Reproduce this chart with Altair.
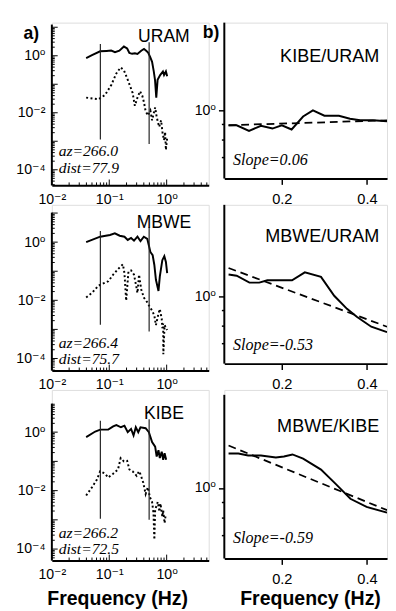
import altair as alt
import pandas as pd

# ---------------- left column: station spectra ----------------
stations = ["URAM", "MBWE", "KIBE"]
az_text = ["az=266.0", "az=266.4", "az=266.2"]
dist_text = ["dist=77.9", "dist=75.7", "dist=72.5"]

uram_sig_f = [0.0396, 0.05, 0.0695, 0.09, 0.108, 0.126, 0.15, 0.18, 0.205, 0.224, 0.25, 0.28, 0.31, 0.36, 0.403,
              0.44, 0.475, 0.515, 0.557, 0.596, 0.627, 0.659, 0.695, 0.77, 0.86, 0.90, 0.97, 1.02]
uram_sig_a = [0.83, 1.05, 1.43, 1.48, 1.52, 1.34, 1.5, 2.1, 1.8, 1.25, 1.17, 1.22, 1.15, 1.5, 1.73,
              1.5, 1.3, 0.92, 0.61, 0.284, 0.14, 0.034, 0.143, 0.21, 0.28, 0.21, 0.28, 0.19]
uram_noise_f = [0.0396, 0.065, 0.0845, 0.109, 0.133, 0.158, 0.18, 0.21, 0.255, 0.279, 0.31, 0.344, 0.377, 0.403,
                0.428, 0.47, 0.52, 0.557, 0.63, 0.67, 0.74, 0.8, 0.85, 0.9, 0.94, 0.97, 1.02]
uram_noise_a = [0.034, 0.0297, 0.042, 0.0966, 0.24, 0.39, 0.31, 0.143, 0.05, 0.0176, 0.034, 0.057, 0.039, 0.023,
                0.0119, 0.008, 0.012, 0.0054, 0.0154, 0.0071, 0.0032, 0.0054, 0.0019, 0.0011, 0.0021, 0.0005, 0.0013]

mbwe_sig_f = [0.0396, 0.0695, 0.103, 0.125, 0.152, 0.184, 0.21, 0.24, 0.27, 0.31, 0.35, 0.40, 0.46, 0.49, 0.52,
              0.57, 0.61, 0.65, 0.72, 0.76, 0.84, 0.91, 0.97, 1.02]
mbwe_sig_a = [1.0, 1.54, 1.76, 2.0, 1.66, 1.54, 1.19, 1.39, 1.13, 1.54, 1.08, 1.54, 1.29, 0.77, 0.46,
              0.356, 0.164, 0.051, 0.021, 0.067, 0.24, 0.33, 0.21, 0.086]
mbwe_noise_f = [0.0396, 0.05, 0.065, 0.079, 0.096, 0.117, 0.142, 0.173, 0.184, 0.197, 0.216, 0.24, 0.27, 0.31,
                0.33, 0.36, 0.40, 0.46, 0.51, 0.557, 0.61, 0.65, 0.72, 0.76, 0.82, 0.84, 0.87, 0.875, 0.92, 1.02]
mbwe_noise_a = [0.0125, 0.018, 0.032, 0.038, 0.045, 0.076, 0.118, 0.173, 0.086, 0.0097, 0.098, 0.106, 0.076, 0.018,
                0.076, 0.024, 0.0125, 0.0085, 0.0058, 0.0045, 0.003, 0.0014, 0.0035, 0.005, 0.0023, 0.0011, 0.0016,
                0.00014, 0.0014, 0.00095]

kibe_sig_f = [0.0396, 0.057, 0.0695, 0.096, 0.117, 0.133, 0.16, 0.184, 0.21, 0.24, 0.265, 0.29, 0.32, 0.35, 0.43,
              0.49, 0.557, 0.63, 0.67, 0.72, 0.76, 0.82, 0.87, 0.92, 0.98]
kibe_sig_a = [0.68, 1.05, 1.22, 1.22, 1.58, 1.75, 1.47, 1.66, 1.0, 1.29, 0.77, 1.47, 1.0, 1.47, 1.36,
              1.0, 0.46, 0.32, 0.147, 0.24, 0.13, 0.215, 0.113, 0.19, 0.113]
kibe_noise_f = [0.0396, 0.05, 0.061, 0.0695, 0.0845, 0.096, 0.117, 0.142, 0.158, 0.18, 0.205, 0.224, 0.255, 0.3,
                0.33, 0.35, 0.39, 0.43, 0.47, 0.51, 0.557, 0.59, 0.61, 0.63, 0.70, 0.75, 0.78, 0.84, 0.87, 0.92, 0.96]
kibe_noise_a = [0.0068, 0.013, 0.024, 0.046, 0.038, 0.028, 0.038, 0.053, 0.129, 0.1, 0.105, 0.053, 0.046, 0.032,
                0.046, 0.036, 0.019, 0.0077, 0.013, 0.006, 0.0041, 0.0017, 0.00021, 0.0022, 0.0041, 0.0019, 0.0036,
                0.0013, 0.0021, 0.00077, 0.0015]

# analysis window (vertical markers)
window_f = [0.07, 0.495]
uram_win_top = [2.6, 3.0]
uram_win_bot = [0.00115, 0.0008]
mbwe_win_top = [2.4, 3.27]
mbwe_win_bot = [0.00144, 0.00085]
kibe_win_top = [2.44, 2.78]
kibe_win_bot = [0.0011, 0.001]

# ---------------- right column: spectral ratios ----------------
ratio_names = ["KIBE/URAM", "MBWE/URAM", "MBWE/KIBE"]
slope_text = ["Slope=0.06", "Slope=-0.53", "Slope=-0.59"]

kibe_uram_f = [0.075, 0.094, 0.123, 0.151, 0.178, 0.2, 0.223, 0.25, 0.273, 0.3, 0.334, 0.36, 0.384, 0.414, 0.447]
kibe_uram_r = [0.893, 0.893, 0.856, 0.889, 0.871, 0.893, 0.865, 0.954, 1.0, 0.96, 0.96, 0.938, 0.927, 0.927, 0.92]
kibe_uram_fit_f = [0.075, 0.447]
kibe_uram_fit_r = [0.893, 0.927]

mbwe_uram_f = [0.075, 0.094, 0.124, 0.147, 0.166, 0.193, 0.224, 0.254, 0.292, 0.323, 0.353, 0.376, 0.41, 0.447]
mbwe_uram_r = [1.18, 1.17, 1.11, 1.11, 1.13, 1.13, 1.13, 1.2, 1.16, 1.005, 0.91, 0.857, 0.795, 0.763]
mbwe_uram_fit_f = [0.075, 0.447]
mbwe_uram_fit_r = [1.24, 0.795]

mbwe_kibe_f = [0.075, 0.098, 0.121, 0.151, 0.186, 0.205, 0.225, 0.25, 0.292, 0.327, 0.361, 0.399, 0.447]
mbwe_kibe_r = [1.30, 1.30, 1.28, 1.28, 1.26, 1.27, 1.29, 1.25, 1.15, 1.03, 0.922, 0.867, 0.83]
mbwe_kibe_fit_f = [0.075, 0.447]
mbwe_kibe_fit_r = [1.38, 0.846]

# ---------------- styling / layout ----------------
SANS = "Liberation Sans, Helvetica, Arial, DejaVu Sans"
SERIF = "Liberation Serif, Times New Roman, DejaVu Serif"

LX_DOM = [0.01, 5.4]
RX_DOM = [0.065, 0.447]
LW = 161
RW = 167

# per-row cell geometry: cell height, px offset of visible axis top,
# pixel of the 10^0 level below the cell top, pixels per decade
L_H = [167, 170, 175]
L_OFF = [2, 8, 14]
L_P0 = [34.0, 38.3, 43.3]
L_K = [29.25, 29.85, 30.0]
R_H = [160, 163, 173]
R_OFF = [0, 0, 5]
R_P0 = [90.0, 94.0, 100.7]
R_K = [312.0, 312.0, 312.0]


def log_domain(p0, k, h):
    return [10 ** ((p0 - h) / k), 10 ** (p0 / k)]


lx_major = [0.01, 0.1, 1.0]
lx_minor = [k * 10.0 ** d for d in (-2, -1, 0) for k in range(2, 10) if k * 10.0 ** d <= LX_DOM[1]]

spectra = [
    (uram_sig_f, uram_sig_a, uram_noise_f, uram_noise_a, uram_win_top, uram_win_bot),
    (mbwe_sig_f, mbwe_sig_a, mbwe_noise_f, mbwe_noise_a, mbwe_win_top, mbwe_win_bot),
    (kibe_sig_f, kibe_sig_a, kibe_noise_f, kibe_noise_a, kibe_win_top, kibe_win_bot),
]
ratios = [
    (kibe_uram_f, kibe_uram_r, kibe_uram_fit_f, kibe_uram_fit_r),
    (mbwe_uram_f, mbwe_uram_r, mbwe_uram_fit_f, mbwe_uram_fit_r),
    (mbwe_kibe_f, mbwe_kibe_r, mbwe_kibe_fit_f, mbwe_kibe_fit_r),
]

title_kw = dict(titleFont=SANS, titleFontSize=20, titleFontWeight="bold", titleColor="black",
                titleAlign="center", titleBaseline="alphabetic")


def text_layer(txt, x, y, font, size, style="normal", weight="normal", align="left"):
    return alt.Chart(pd.DataFrame({"t": [txt]})).mark_text(
        font=font, fontSize=size, fontStyle=style, fontWeight=weight, align=align,
        baseline="alphabetic", color="black"
    ).encode(text="t:N", x=alt.value(x), y=alt.value(y))


def axis_line(off, h):
    return alt.Chart(pd.DataFrame({"d": [0]})).mark_rule(color="black", strokeWidth=2).encode(
        x=alt.value(0), y=alt.value(off), y2=alt.value(h))


def left_panel(i):
    h, off = L_H[i], L_OFF[i]
    sf, sa, nf, na, wt, wb = spectra[i]
    ydom = log_domain(L_P0[i], L_K[i], h)
    vis_top = 10 ** ((L_P0[i] - off) / L_K[i])
    ly_major = [10.0 ** d for d in range(-5, 2) if ydom[0] <= 10.0 ** d <= vis_top]
    ly_minor = [k * 10.0 ** d for d in range(-5, 2) for k in range(2, 10)
                if ydom[0] <= k * 10.0 ** d <= vis_top]
    xs = alt.Scale(type="log", domain=LX_DOM)
    ys = alt.Scale(type="log", domain=ydom)
    xkw = dict(values=[0.01, 0.1, 1.0],
               labelExpr="datum.value < 0.05 ? '10⁻²' : (datum.value < 0.5 ? '10⁻¹' : '10⁰')",
               ticks=False, tickSize=0, grid=False, domainWidth=2, domainColor="black",
               labelFont=SANS, labelFontSize=14.5, labelColor="black", labelPadding=8,
               labelFlush=False, labelOverlap=False)
    if i == 2:
        xkw.update(title="Frequency (Hz)", titleX=67, titleY=45, **title_kw)
    else:
        xkw.update(title=None)
    xax = alt.Axis(**xkw)
    yax = alt.Axis(values=[1e-4, 1e-2, 1.0],
                   labelExpr="datum.value < 0.001 ? '10⁻⁴' : (datum.value < 0.1 ? '10⁻²' : '10⁰')",
                   ticks=False, tickSize=0, grid=False, domain=False,
                   labelFont=SANS, labelFontSize=14.5, labelColor="black", labelPadding=7,
                   labelFlush=False, labelOverlap=False, title=None)
    X = lambda: alt.X("f:Q", scale=xs, axis=xax)
    Y = lambda: alt.Y("v:Q", scale=ys, axis=yax)

    sig = alt.Chart(pd.DataFrame({"f": sf, "v": sa})).mark_line(
        color="black", strokeWidth=2).encode(x=X(), y=Y())
    noise = alt.Chart(pd.DataFrame({"f": nf, "v": na})).mark_line(
        color="black", strokeWidth=2, strokeDash=[2, 2.5]).encode(x=X(), y=Y())
    win = alt.Chart(pd.DataFrame({"f": window_f, "v": wt, "v2": wb})).mark_rule(
        color="#222222", strokeWidth=1.2).encode(x=X(), y=Y(), y2="v2:Q")
    ytM = alt.Chart(pd.DataFrame({"v": ly_major})).mark_rule(color="black", strokeWidth=1).encode(
        y=Y(), x=alt.value(0), x2=alt.value(6))
    ytm = alt.Chart(pd.DataFrame({"v": ly_minor})).mark_rule(color="black", strokeWidth=1).encode(
        y=Y(), x=alt.value(0), x2=alt.value(3))
    xtM = alt.Chart(pd.DataFrame({"f": lx_major})).mark_rule(color="black", strokeWidth=1).encode(
        x=X(), y=alt.value(h), y2=alt.value(h - 6))
    xtm = alt.Chart(pd.DataFrame({"f": lx_minor})).mark_rule(color="black", strokeWidth=1).encode(
        x=X(), y=alt.value(h), y2=alt.value(h - 3))

    layers = [sig, noise, win, ytM, ytm, xtM, xtm, axis_line(off, h),
              text_layer(stations[i], 115, [20.3, 23.3, 29.3][i], SANS, 18, align="center"),
              text_layer(az_text[i], 7, [137.0, 146.5, 151.5][i], SERIF, 16, style="italic"),
              text_layer(dist_text[i], 7, [154.0, 163.0, 168.5][i], SERIF, 16, style="italic")]
    if i == 0:
        layers.append(text_layer("a)", -29, 17, SANS, 18, weight="bold"))
    return alt.layer(*layers).properties(width=LW, height=h)


def right_panel(i):
    h, off = R_H[i], R_OFF[i]
    rf, rr, ff, fr = ratios[i]
    xs = alt.Scale(type="linear", domain=RX_DOM, nice=False, zero=False)
    ys = alt.Scale(type="log", domain=log_domain(R_P0[i], R_K[i], h))
    xkw = dict(values=[0.2, 0.4], format=".1f", tickSize=6, tickWidth=1.5, tickColor="black",
               grid=False, domainWidth=2, domainColor="black",
               labelFont=SANS, labelFontSize=15, labelColor="black", labelPadding=8,
               labelFlush=False, labelOverlap=False)
    if i == 2:
        xkw.update(title="Frequency (Hz)", titleX=88, titleY=47, **title_kw)
    else:
        xkw.update(title=None)
    xax = alt.Axis(**xkw)
    yax = alt.Axis(values=[0.7, 0.8, 0.9, 1.0],
                   labelExpr="datum.value == 1 ? '10⁰' : ''",
                   tickSize={"condition": {"test": "datum.value == 1", "value": 6}, "value": 3},
                   tickWidth=1.5, tickColor="black", grid=False, domain=False,
                   labelFont=SANS, labelFontSize=14.5, labelColor="black", labelPadding=3,
                   labelFlush=False, labelOverlap=False, title=None)
    X = lambda: alt.X("f:Q", scale=xs, axis=xax)
    Y = lambda: alt.Y("v:Q", scale=ys, axis=yax)
    obs = alt.Chart(pd.DataFrame({"f": rf, "v": rr})).mark_line(
        color="black", strokeWidth=2, clip=True).encode(x=X(), y=Y())
    fit = alt.Chart(pd.DataFrame({"f": ff, "v": fr})).mark_line(
        color="black", strokeWidth=1.8, strokeDash=[8, 5], clip=True).encode(x=X(), y=Y())
    layers = [obs, fit, axis_line(off, h),
              text_layer(ratio_names[i], 159, [40.3, 38.3, 43.3][i], SANS, 18.5, align="right"),
              text_layer(slope_text[i], 9, [146.3, 149.3, 156.7][i], SERIF, 16.5, style="italic")]
    if i == 0:
        layers.append(text_layer("b)", -22, 16, SANS, 18, weight="bold"))
    return alt.layer(*layers).properties(width=RW, height=h)


panels = []
for r in range(3):
    panels.append(left_panel(r))
    panels.append(right_panel(r))

chart = alt.concat(*panels, columns=2, spacing={"row": 20, "column": 16}, bounds="flush").properties(
    padding={"left": 7, "top": 5, "right": 0, "bottom": 0}
).configure_view(stroke="transparent").configure(background="white")

chart.save("out.html", embed_options={"renderer": "svg", "actions": False})
